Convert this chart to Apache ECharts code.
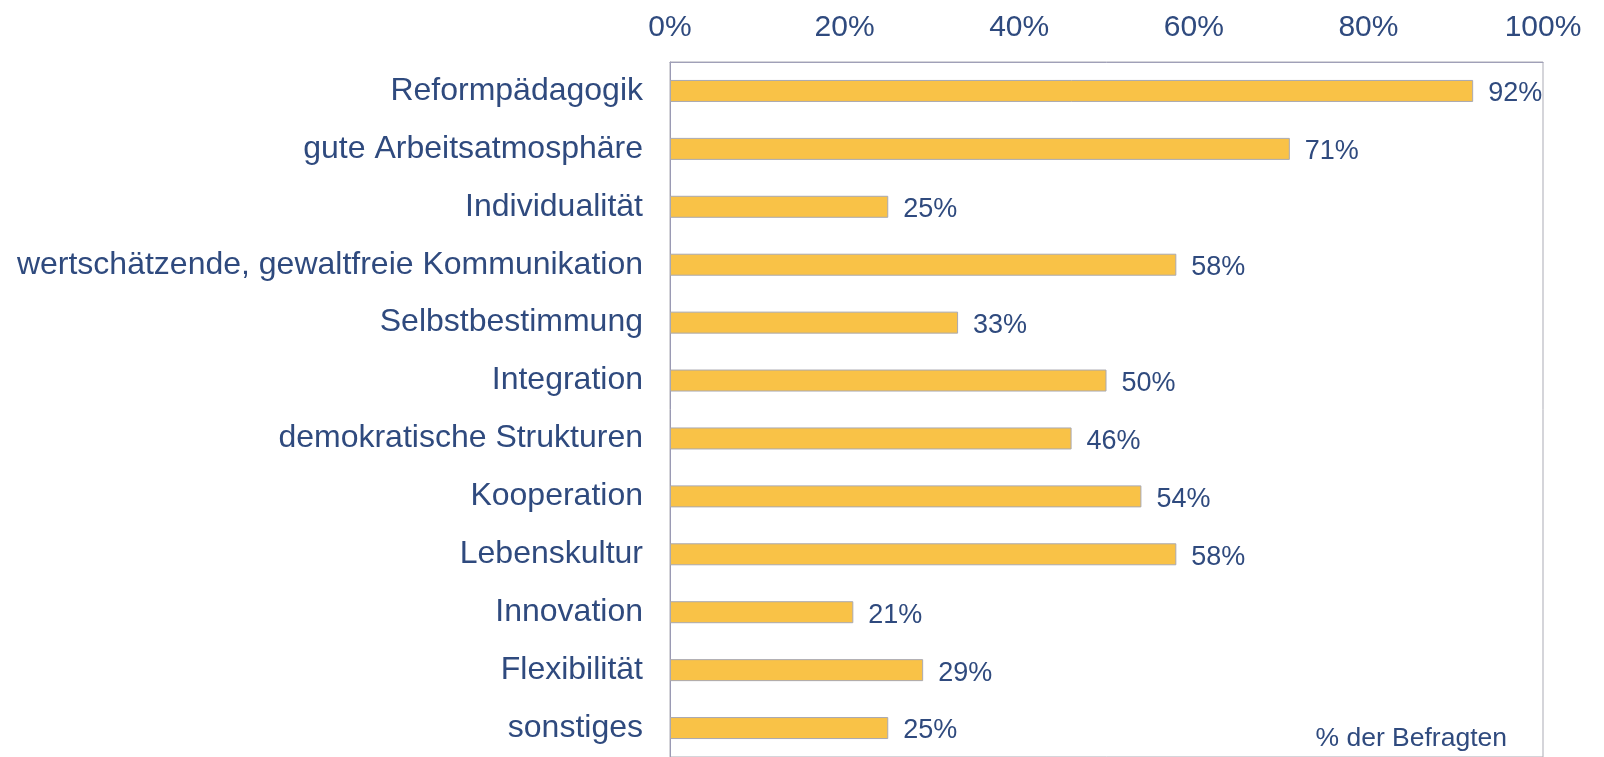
<!DOCTYPE html>
<html>
<head>
<meta charset="utf-8">
<script src="https://cdn.jsdelivr.net/npm/echarts@6/dist/echarts.min.js"></script>
<style>
html,body{margin:0;padding:0;background:#fff;}
#chart{width:1604px;height:757px;}
</style>
</head>
<body>
<div id="chart"></div>
<script>
const categories = [
  "Reformpädagogik",
  "gute Arbeitsatmosphäre",
  "Individualität",
  "wertschätzende, gewaltfreie Kommunikation",
  "Selbstbestimmung",
  "Integration",
  "demokratische Strukturen",
  "Kooperation",
  "Lebenskultur",
  "Innovation",
  "Flexibilität",
  "sonstiges"
];
const values = [92, 71, 25, 58, 33, 50, 46, 54, 58, 21, 29, 25];
const unitNote = "% der Befragten";

const FONT = 'Arial, "Liberation Sans", sans-serif';
const TEXT = '#2F4A7E';

const chart = echarts.init(document.getElementById('chart'), null, {renderer: 'canvas'});
chart.setOption({
  animation: false,
  backgroundColor: '#ffffff',
  title: {
    text: unitNote,
    right: 92,
    top: 720,
    textStyle: {fontFamily: FONT, fontSize: 26.5, fontWeight: 'normal', color: TEXT}
  },
  grid: {
    left: 670, right: 61, top: 62, bottom: -2,
    show: true, borderColor: '#ABABB5', borderWidth: 1, backgroundColor: 'transparent'
  },
  xAxis: {
    type: 'value', position: 'top', min: 0, max: 100, interval: 20,
    axisLine: {show: true, lineStyle: {color: '#A0A0B8', width: 1}},
    axisTick: {show: false},
    splitLine: {show: false},
    axisLabel: {formatter: '{value}%', fontFamily: FONT, fontSize: 30, color: TEXT, margin: 19}
  },
  yAxis: {
    type: 'category', data: categories, inverse: true,
    axisLine: {show: true, lineStyle: {color: '#9A9AB4', width: 1}},
    axisTick: {show: false},
    splitLine: {show: false},
    axisLabel: {fontFamily: FONT, fontSize: 32, color: TEXT, margin: 27, padding: [4, 0, 0, 0]}
  },
  series: [{
    type: 'bar', data: values, barWidth: 22,
    itemStyle: {color: '#F9C247', borderColor: '#A9A9B2', borderWidth: 1},
    label: {show: true, position: 'right', distance: 15, offset: [0, 3], formatter: '{c}%',
      fontFamily: FONT, fontSize: 27, color: TEXT}
  }]
});
</script>
</body>
</html>
